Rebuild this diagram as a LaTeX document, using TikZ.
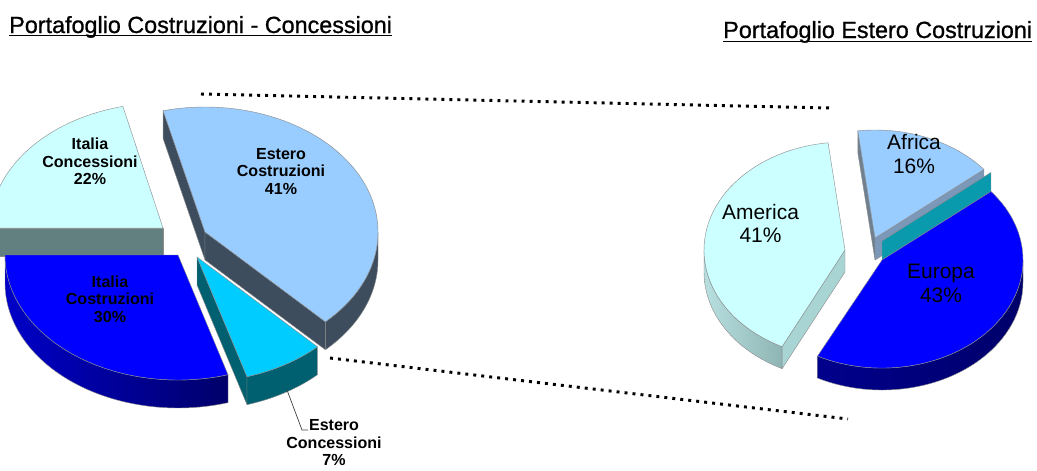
\documentclass[tikz,border=0pt]{standalone}
\usepackage{fontspec}
\setmainfont{Liberation Sans}
\newfontfamily\titfont{Liberation Sans}[FakeBold=0.9]
\usetikzlibrary{calc}

\definecolor{bluTop}{HTML}{0000FF}
\definecolor{bluSx}{HTML}{0000C8}
\definecolor{bluDx}{HTML}{00006A}
\definecolor{cianoTop}{HTML}{CCFFFF}
\definecolor{cianoFetta}{HTML}{628080}
\definecolor{celesteTop}{HTML}{99CCFF}
\definecolor{ardesia}{HTML}{3D4D5E}
\definecolor{turcheseTop}{HTML}{00CCFF}
\definecolor{turcheseLato}{HTML}{00606F}
\definecolor{grigioBlu}{HTML}{7C98B8}
\definecolor{grigioBordo}{HTML}{6F8090}
\definecolor{verdeAcqua}{HTML}{0A9AAE}
\definecolor{ameSx}{HTML}{B8E0E0}
\definecolor{ameDx}{HTML}{8FB4B4}
\definecolor{ameLato}{HTML}{A8D4D4}

\begin{document}
\begin{tikzpicture}[
        x=0.025cm, y=0.025cm, % 1 unita = 1 pixel
        faccia/.style = {draw=black!45, line width=0.3pt, line join=round}, % facce delle fette
        titolo/.style = {inner sep=0pt, anchor=base west, font=\titfont\fontsize{16.6}{20}\selectfont},
        etich/.style = {align=center, inner sep=0pt, font=\bfseries\fontsize{11.4}{12.6}\selectfont},
        etichG/.style = {align=center, inner sep=0pt, font=\fontsize{14.9}{17}\selectfont},
        zoomline/.style = {line width=2.1pt, dash pattern=on 2.1pt off 3.6pt},
    ]
    \useasboundingbox (0,0) rectangle (1037,470);
    \clip (0,0) rectangle (1037,470);

    % centri delle fette
    \coordinate (icon) at (163,242);
    \coordinate (ecos) at (205,238);
    \coordinate (icos) at (178,215);
    \coordinate (econ) at (197,213);
    \coordinate (afr) at (875,232);
    \coordinate (ame) at (845,220);
    \coordinate (eur) at (882,210);

    % Italia Concessioni
    \path[faccia, fill=cianoFetta] (icon) -- ++(180:173 and 125) -- ++(0,-28) -- ($(icon)+(0,-28)$) -- cycle;
    \path[faccia, fill=cianoTop] (icon) -- ++(103.4:173 and 125) arc[start angle=103.4, end angle=180, x radius=173, y radius=125] -- cycle;

    % Estero Costruzioni
    \path[faccia, fill=ardesia] (ecos) -- ++(104:173 and 125) -- ++(0,-28) -- ($(ecos)+(0,-28)$) -- cycle;
    \path[faccia, fill=ardesia] (ecos) -- ++(-45.9:173 and 125) -- ++(0,-28) -- ($(ecos)+(0,-28)$) -- cycle;
    \path[faccia, fill=ardesia] ($(ecos)+(-45.9:173 and 125)$) arc[start angle=-45.9, end angle=0, x radius=173, y radius=125]
        -- ++(0,-28) arc[start angle=0, end angle=-45.9, x radius=173, y radius=125] -- cycle;
    \path[faccia, fill=celesteTop] (ecos) -- ++(-45.9:173 and 125) arc[start angle=-45.9, end angle=104, x radius=173, y radius=125] -- cycle;

    % Italia Costruzioni
    \path[faccia, left color=bluSx, right color=bluDx] ($(icos)+(180:173 and 125)$) arc[start angle=180, end angle=286.8, x radius=173, y radius=125]
        -- ++(0,-28) arc[start angle=286.8, end angle=180, x radius=173, y radius=125] -- cycle;
    \path[faccia, fill=bluTop] (icos) -- ++(180:173 and 125) arc[start angle=180, end angle=286.8, x radius=173, y radius=125] -- cycle;

    % Estero Concessioni
    \path[faccia, fill=turcheseLato] (econ) -- ++(-73.2:173 and 125) -- ++(0,-28) -- ($(econ)+(0,-28)$) -- cycle;
    \path[faccia, fill=turcheseLato] ($(econ)+(-73.2:173 and 125)$) arc[start angle=-73.2, end angle=-45.9, x radius=173, y radius=125]
        -- ++(0,-28) arc[start angle=-45.9, end angle=-73.2, x radius=173, y radius=125] -- cycle;
    \path[faccia, fill=turcheseTop] (econ) -- ++(-73.2:173 and 125) arc[start angle=-73.2, end angle=-45.9, x radius=173, y radius=125] -- cycle;

    % Africa
    \path[faccia, fill=grigioBordo] (afr) -- ++(97:141 and 108) -- ++(0,-22) -- ($(afr)+(0,-22)$) -- cycle;
    \path[faccia, fill=grigioBlu] (afr) -- ++(39.4:141 and 108) -- ++(0,-22) -- ($(afr)+(0,-22)$) -- cycle;
    \path[faccia, fill=celesteTop] (afr) -- ++(39.4:141 and 108) arc[start angle=39.4, end angle=97, x radius=141, y radius=108] -- cycle;
    \path[faccia, fill=verdeAcqua] (eur) -- ++(39.4:141 and 108) -- ++(0,19) -- ($(eur)+(0,19)$) -- cycle;

    % America
    \path[faccia, left color=ameSx, right color=ameDx] ($(ame)+(180:141 and 108)$) arc[start angle=180, end angle=243.5, x radius=141, y radius=108]
        -- ++(0,-22) arc[start angle=243.5, end angle=180, x radius=141, y radius=108] -- cycle;
    \path[faccia, fill=ameLato] (ame) -- ++(243.5:141 and 108) -- ++(0,-22) -- ($(ame)+(0,-22)$) -- cycle;
    \path[faccia, fill=cianoTop] (ame) -- ++(96.9:141 and 108) arc[start angle=96.9, end angle=243.5, x radius=141, y radius=108] -- cycle;

    % Europa
    \path[faccia, left color=bluSx!70!black, right color=bluDx] ($(eur)+(-117.2:141 and 108)$) arc[start angle=-117.2, end angle=0, x radius=141, y radius=108]
        -- ++(0,-22) arc[start angle=0, end angle=-117.2, x radius=141, y radius=108] -- cycle;
    \path[faccia, fill=bluTop] (eur) -- ++(-117.2:141 and 108) arc[start angle=-117.2, end angle=39.4, x radius=141, y radius=108] -- cycle;

    % linee dello zoom
    \coordinate (zoom-a) at (201,376);
    \coordinate (zoom-b) at (830,362);
    \coordinate (zoom-c) at (330,112);
    \coordinate (zoom-d) at (848,51);
    \draw[zoomline] (zoom-a) -- (zoom-b);
    \draw[zoomline] (zoom-c) -- (zoom-d);

    % titoli
    \node[titolo] (tit-sx) at (9,437) {Portafoglio Costruzioni - Concessioni};
    \node[titolo] (tit-dx) at (723,432) {Portafoglio Estero Costruzioni};
    \draw[line width=1.4pt] ($(tit-sx.base west)+(0,-2.5)$) -- ($(tit-sx.base east)+(0,-2.5)$);
    \draw[line width=1.4pt] ($(tit-dx.base west)+(0,-3.5)$) -- ($(tit-dx.base east)+(0,-3.5)$);

    % etichette
    \node[etich] (lbl-icon) at (90,308.5) {Italia\\Concessioni\\22\%};
    \node[etich] (lbl-ecos) at (281,298.5) {Estero\\Costruzioni\\41\%};
    \node[etich] (lbl-icos) at (110,171) {Italia\\Costruzioni\\30\%};
    \node[etich, anchor=north] (lbl-econ) at (334,51) {Estero\\Concessioni\\7\%};
    \coordinate (econ-tip) at (287,80);
    \coordinate (econ-knee) at (302,40);
    \coordinate (econ-end) at (308,40);
    \draw[line width=0.5pt, black!75] (econ-tip) -- (econ-knee) -- (econ-end);

    \node[etichG] (lbl-afr) at (914,316) {Africa\\16\%};
    \node[etichG] (lbl-ame) at (760.5,246.5) {America\\41\%};
    \node[etichG] (lbl-eur) at (941,187) {Europa\\43\%};
\end{tikzpicture}
\end{document}
